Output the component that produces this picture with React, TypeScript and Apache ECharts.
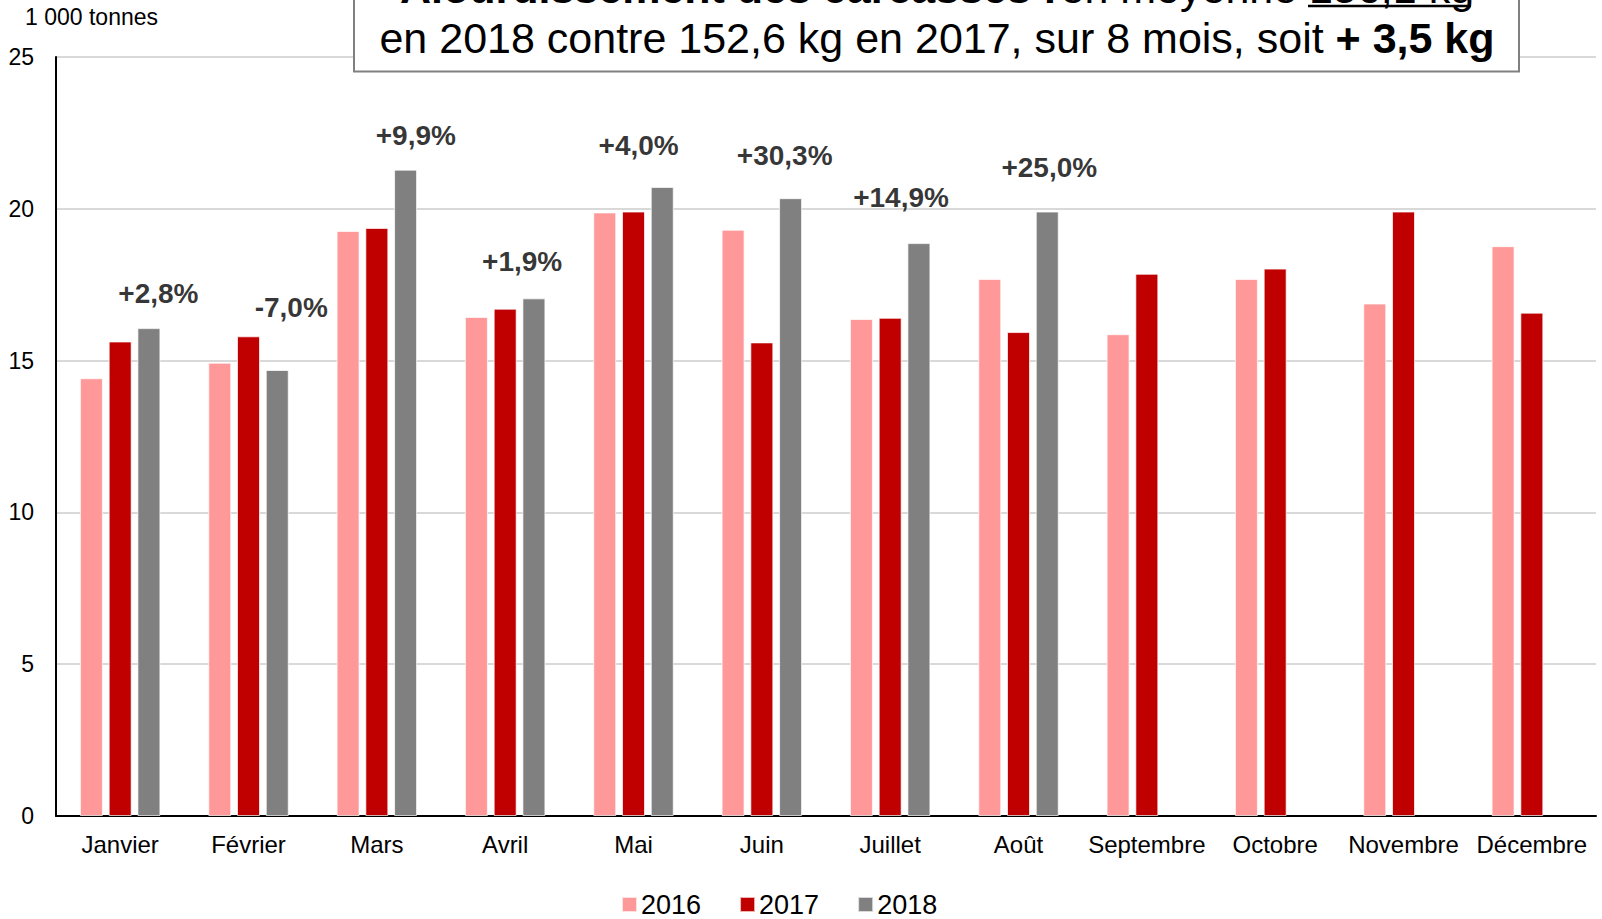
import React, { useEffect, useRef } from "react";
import * as echarts from "echarts";

const months = ["Janvier", "Février", "Mars", "Avril", "Mai", "Juin", "Juillet", "Août", "Septembre", "Octobre", "Novembre", "Décembre"];
const s2016 = [14.42, 14.93, 19.27, 16.44, 19.88, 19.31, 16.37, 17.69, 15.87, 17.69, 16.88, 18.77];
const s2017 = [15.63, 15.8, 19.37, 16.71, 19.91, 15.6, 16.41, 15.94, 17.86, 18.03, 19.91, 16.58];
const s2018 = [16.07, 14.69, 21.29, 17.05, 20.72, 20.35, 18.87, 19.91, null, null, null, null];
const pctLabels = ["+2,8%", "-7,0%", "+9,9%", "+1,9%", "+4,0%", "+30,3%", "+14,9%", "+25,0%"];
// annotation anchor positions (x in month units from axis start, y in 1 000 tonnes)
const pctX = [0.798, 1.833, 2.804, 3.632, 4.54, 5.678, 6.585, 7.74];
const pctY = [17.22, 16.75, 22.43, 18.26, 22.1, 21.76, 20.38, 21.36];
const yTicks = { min: 0, max: 25, interval: 5 };

const FONT = "'Liberation Sans', Arial, sans-serif";

export default function App() {
  const ref = useRef<HTMLDivElement>(null);
  useEffect(() => {
    const chart = echarts.init(ref.current!, null, { renderer: "svg" });
    const barCommon = {
      type: "bar",
      barWidth: 23,
      barGap: "25%",
      itemStyle: { borderColor: "rgba(255,255,255,0.7)", borderWidth: 1 },
    };
    chart.setOption({
      animation: false,
      backgroundColor: "#ffffff",
      textStyle: { fontFamily: FONT },
      grid: { left: 56, right: 6, top: 57, bottom: 103, containLabel: false },
      legend: {
        data: ["2016", "2017", "2018"],
        left: 616,
        top: 886,
        icon: "rect",
        itemWidth: 15,
        itemHeight: 15,
        itemGap: 38,
        textStyle: { fontSize: 27, color: "#000", fontFamily: FONT, padding: [0, 0, 0, -1] },
      },
      xAxis: [
        {
          type: "category",
          data: months,
          axisLine: { lineStyle: { color: "#000", width: 2 } },
          axisTick: { show: false },
          axisLabel: { fontSize: 24, color: "#000", margin: 16, interval: 0, fontFamily: FONT },
        },
        { type: "value", min: 0, max: 12, show: false },
      ],
      yAxis: {
        type: "value",
        min: yTicks.min,
        max: yTicks.max,
        interval: yTicks.interval,
        axisLine: { show: true, lineStyle: { color: "#000", width: 2 } },
        axisTick: { show: false },
        splitLine: { lineStyle: { color: "#d9d9d9", width: 2 } },
        axisLabel: { fontSize: 23, color: "#000", margin: 22, fontFamily: FONT },
      },
      series: [
        { ...barCommon, name: "2016", data: s2016, itemStyle: { ...barCommon.itemStyle, color: "#FF9999" } },
        { ...barCommon, name: "2017", data: s2017, itemStyle: { ...barCommon.itemStyle, color: "#C00000" } },
        { ...barCommon, name: "2018", data: s2018, itemStyle: { ...barCommon.itemStyle, color: "#808080" } },
        {
          type: "scatter",
          name: "variation",
          xAxisIndex: 1,
          symbolSize: 0,
          z: 10,
          data: pctX.map((x, i) => [x, pctY[i]]),
          label: {
            show: true,
            position: "inside",
            formatter: (p: any) => pctLabels[p.dataIndex],
            fontSize: 28,
            fontWeight: "bold",
            color: "#000",
            textBorderWidth: 0,
            fontFamily: FONT,
          },
        },
      ],
      graphic: [
        {
          type: "rect",
          z: 100,
          shape: { x: 354, y: -20, width: 1165, height: 91.5 },
          style: { fill: "#fff", stroke: "#808080", lineWidth: 2 },
        },
        {
          type: "text",
          z: 101,
          x: 937,
          y: -12,
          style: {
            text: "{b|Alourdissement des carcasses :} {n|en moyenne }{n|156,1 kg}",
            align: "center",
            verticalAlign: "middle",
            rich: {
              b: { fontSize: 43, fontWeight: "bold", fill: "#000", fontFamily: FONT },
              n: { fontSize: 43, fill: "#000", fontFamily: FONT },
            },
          },
        },
        {
          type: "line",
          z: 101,
          shape: { x1: 1308, y1: 6, x2: 1471, y2: 6 },
          style: { stroke: "#000", lineWidth: 2.5 },
        },
        {
          type: "text",
          z: 101,
          x: 937,
          y: 38,
          style: {
            text: "{n|en 2018 contre 152,6 kg en 2017, sur 8 mois, soit }{b|+ 3,5 kg}",
            align: "center",
            verticalAlign: "middle",
            rich: {
              b: { fontSize: 43, fontWeight: "bold", fill: "#000", fontFamily: FONT },
              n: { fontSize: 43, fill: "#000", fontFamily: FONT },
            },
          },
        },
        {
          type: "text",
          z: 101,
          x: 25,
          y: 17,
          style: { text: "1 000 tonnes", fontSize: 23, fill: "#000", fontFamily: FONT, verticalAlign: "middle" },
        },
      ],
    });
    return () => chart.dispose();
  }, []);
  return <div ref={ref} style={{ position: "fixed", left: 0, top: 0, width: 1602, height: 919 }} />;
}
